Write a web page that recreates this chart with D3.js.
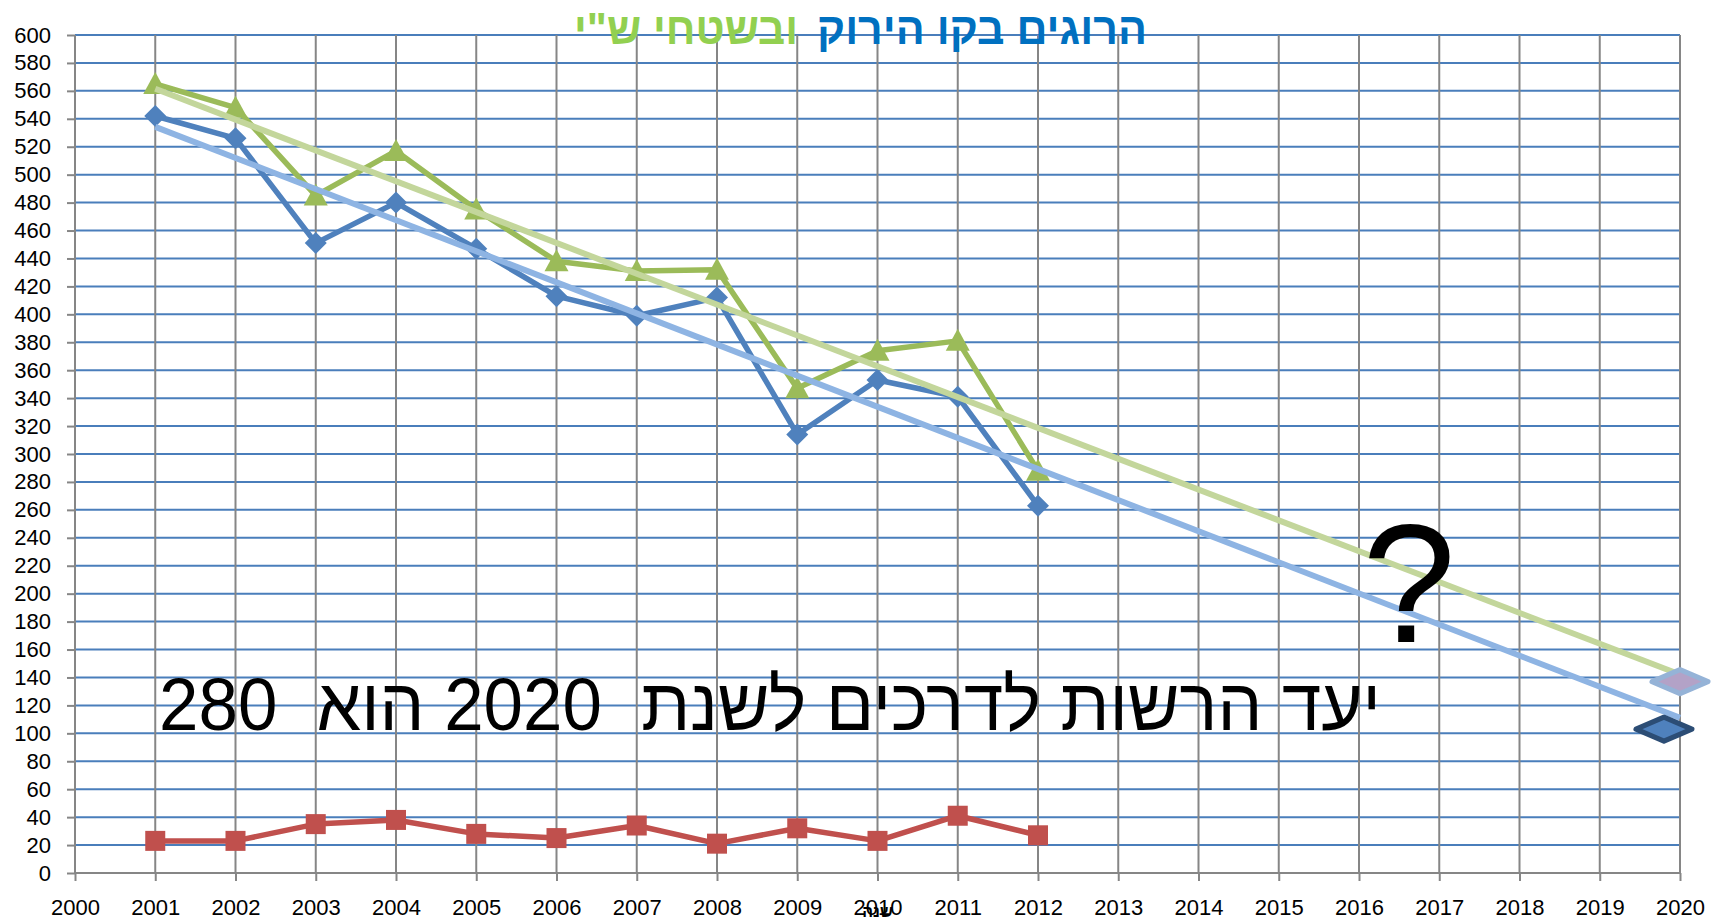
<!DOCTYPE html>
<html>
<head>
<meta charset="utf-8">
<script src="https://cdn.jsdelivr.net/npm/d3@7"></script>
<style>
  body { margin: 0; background: white; }
  svg { display: block; }
</style>
</head>
<body>
<script>
const years = [2001, 2002, 2003, 2004, 2005, 2006, 2007, 2008, 2009, 2010, 2011, 2012]
const greenLine = [542, 526, 451, 480, 447, 413, 399, 412, 314, 353, 341, 263]
const totalKilled = [565, 548, 485, 517, 475, 438, 431, 432, 347, 374, 381, 288]
const territories = [23, 23, 35, 38, 28, 25, 34, 21, 32, 23, 41, 27]

const xTicks = [2000, 2001, 2002, 2003, 2004, 2005, 2006, 2007, 2008, 2009, 2010,
    2011, 2012, 2013, 2014, 2015, 2016, 2017, 2018, 2019, 2020]
const yTicks = [0, 20, 40, 60, 80, 100, 120, 140, 160, 180, 200, 220, 240, 260, 280, 300,
    320, 340, 360, 380, 400, 420, 440, 460, 480, 500, 520, 540, 560, 580, 600]

// the two big diamonds at the right edge
const targetYears = [2020, 2019.8]
const targetValues = [137, 103]

const titleBlue = "הרוגים בקו הירוק"
const titleGreen = "ובשטחי ש\"י"
const targetText = "יעד הרשות לדרכים לשנת  2020 הוא  280"
const xAxisTitle = "שנה"

const svg = d3.select("body").append("svg")
    .attr("width", 1721)
    .attr("height", 921)

const x = d3.scaleLinear().domain([2000, 2020]).range([75, 1680])
const y = d3.scaleLinear().domain([0, 600]).range([873, 35])

// blue horizontal grid
svg.append("g")
    .selectAll("line")
    .data(yTicks.filter(d => d > 0))
    .join("line")
    .attr("x1", x(2000))
    .attr("x2", x(2020))
    .attr("y1", d => y(d))
    .attr("y2", d => y(d))
    .attr("stroke", "#4a7ebb")
    .attr("stroke-width", 2)

// grey vertical grid
svg.append("g")
    .selectAll("line")
    .data(xTicks.slice(1))
    .join("line")
    .attr("x1", d => x(d))
    .attr("x2", d => x(d))
    .attr("y1", y(600))
    .attr("y2", y(0))
    .attr("stroke", "#868686")
    .attr("stroke-width", 2)

const yAxis = svg.append("g")
    .attr("transform", `translate(${x(2000)},0)`)
    .call(d3.axisLeft(y).tickValues(yTicks).tickSize(8).tickPadding(16))
yAxis.selectAll("path, line").attr("stroke", "#868686").attr("stroke-width", 2)
yAxis.select(".domain").attr("d", `M0,${y(0)}V${y(600)}`)
yAxis.selectAll("text")
    .attr("font-family", "Liberation Sans, Arial, sans-serif")
    .attr("font-size", 22)
    .attr("fill", "black")

const xAxis = svg.append("g")
    .attr("transform", `translate(0,${y(0)})`)
    .call(d3.axisBottom(x).tickValues(xTicks).tickFormat(d3.format("d")).tickSize(8).tickPadding(18))
xAxis.selectAll("path, line").attr("stroke", "#868686").attr("stroke-width", 2)
xAxis.select(".domain").attr("d", `M${x(2000)},0H${x(2020)}`)
xAxis.selectAll("text")
    .attr("font-family", "Liberation Sans, Arial, sans-serif")
    .attr("font-size", 22)
    .attr("fill", "black")

const line = d3.line()
    .x(d => x(d[0]))
    .y(d => y(d[1]))

const drawSeries = (values, color) => {
    svg.append("path")
        .datum(d3.zip(years, values))
        .attr("d", line)
        .attr("fill", "none")
        .attr("stroke", color)
        .attr("stroke-width", 5.5)
        .attr("stroke-linejoin", "round")
}

drawSeries(greenLine, "#4f81bd")
drawSeries(totalKilled, "#9bbb59")
drawSeries(territories, "#c0504d")

svg.append("g")
    .selectAll("path")
    .data(d3.zip(years, greenLine))
    .join("path")
    .attr("d", "M0,-11L11,0L0,11L-11,0Z")
    .attr("transform", d => `translate(${x(d[0])},${y(d[1])})`)
    .attr("fill", "#4f81bd")

svg.append("g")
    .selectAll("path")
    .data(d3.zip(years, totalKilled))
    .join("path")
    .attr("d", "M0,-12L12,10L-12,10Z")
    .attr("transform", d => `translate(${x(d[0])},${y(d[1])})`)
    .attr("fill", "#9bbb59")

svg.append("g")
    .selectAll("rect")
    .data(d3.zip(years, territories))
    .join("rect")
    .attr("x", d => x(d[0]) - 10)
    .attr("y", d => y(d[1]) - 10)
    .attr("width", 20)
    .attr("height", 20)
    .attr("fill", "#c0504d")

// linear trend lines, fitted like the spreadsheet does
const fitLine = (values) => {
    const mx = d3.mean(years)
    const my = d3.mean(values)
    let sxy = 0, sxx = 0
    for (let i = 0; i < years.length; i++) {
        sxy += (years[i] - mx) * (values[i] - my)
        sxx += (years[i] - mx) * (years[i] - mx)
    }
    const slope = sxy / sxx
    return [2001, 2020].map(t => [t, my + slope * (t - mx)])
}

svg.append("path")
    .datum(fitLine(totalKilled))
    .attr("d", line)
    .attr("stroke", "#c3d69b")
    .attr("stroke-width", 6)
    .attr("fill", "none")

svg.append("path")
    .datum(fitLine(greenLine))
    .attr("d", line)
    .attr("stroke", "#8eb4e3")
    .attr("stroke-width", 6)
    .attr("fill", "none")

// target diamonds
const targetFill = ["#b3a2c7", "#4f81bd"]
const targetStroke = ["#95b3d7", "#2c4d75"]
svg.append("g")
    .selectAll("path")
    .data(d3.zip(targetYears, targetValues))
    .join("path")
    .attr("d", "M-28,0L0,-12L28,0L0,12Z")
    .attr("transform", d => `translate(${x(d[0])},${y(d[1])})`)
    .attr("fill", (d, i) => targetFill[i])
    .attr("stroke", (d, i) => targetStroke[i])
    .attr("stroke-width", 5)
    .attr("stroke-linejoin", "round")

// squeeze a text to a given width around its centre
const fitText = (sel, cx, width) => {
    const w = sel.node().getBBox().width
    sel.attr("text-anchor", "middle")
        .attr("x", 0)
        .attr("transform", `translate(${cx},0) scale(${width / w},1)`)
}

const tBlue = svg.append("text")
    .text(titleBlue)
    .attr("y", 44)
    .attr("font-family", "Liberation Sans, Arial, sans-serif")
    .attr("font-weight", "bold")
    .attr("font-size", 45)
    .attr("fill", "#0070c0")
fitText(tBlue, 982, 330)

const tGreen = svg.append("text")
    .text(titleGreen)
    .attr("y", 44)
    .attr("font-family", "Liberation Sans, Arial, sans-serif")
    .attr("font-weight", "bold")
    .attr("font-size", 45)
    .attr("fill", "#92d050")
fitText(tGreen, 686, 224)

const big = svg.append("text")
    .text(targetText)
    .attr("y", 730)
    .attr("direction", "rtl")
    .style("white-space", "pre")
    .attr("font-family", "Liberation Sans, Arial, sans-serif")
    .attr("font-size", 74)
    .attr("fill", "black")
fitText(big, 770, 1222)

svg.append("text")
    .text("?")
    .attr("x", 1409)
    .attr("y", 642)
    .attr("text-anchor", "middle")
    .attr("font-family", "Liberation Sans, Arial, sans-serif")
    .attr("font-size", 168)
    .attr("fill", "black")

svg.append("text")
    .text(xAxisTitle)
    .attr("x", x(2010))
    .attr("y", 917)
    .attr("text-anchor", "middle")
    .attr("font-family", "Liberation Sans, Arial, sans-serif")
    .attr("font-weight", "bold")
    .attr("font-size", 16)
    .attr("fill", "black")
</script>
</body>
</html>
